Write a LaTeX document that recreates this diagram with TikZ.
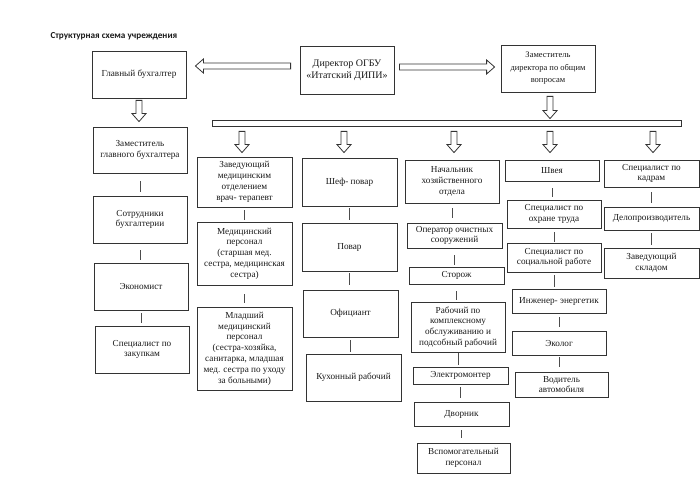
\documentclass[tikz,border=0pt]{standalone}
\usepackage{fontspec}
\setmainfont{Liberation Serif}
\newfontfamily\headfont{Carlito}
\usepackage{tikz}
\usetikzlibrary{calc,positioning}
\newcommand{\hollowarrow}[2]{%
  \coordinate (ha) at #1;%
  \coordinate (hb) at #2;%
  \coordinate (hh) at ($(hb)!8pt!(ha)$);%
  \draw[arr] ($(ha)!3pt!90:(hb)$) -- ($(hh)!3pt!90:(hb)$) -- ($(hh)!7pt!90:(hb)$) -- (hb) -- ($(hh)!7pt!-90:(hb)$) -- ($(hh)!3pt!-90:(hb)$) -- ($(ha)!3pt!-90:(hb)$) -- cycle;%
}

\begin{document}
\begin{tikzpicture}[x=1pt,y=-1pt]
    \tikzstyle{every node}=[font=\fontsize{9.2}{10.8}\selectfont, text=black!90]
    \tikzstyle{box}=[draw=black!80, line width=0.8pt, minimum width=94pt, inner sep=0pt, align=center]
    \tikzstyle{arr}=[draw=black!80, line width=0.8pt, line join=miter]
    \tikzstyle{link}=[draw=black!70, line width=0.7pt]
    \useasboundingbox (0,0) rectangle (700,494); %
    \node[anchor=west, font=\headfont\bfseries\fontsize{9.2}{10}\selectfont] (title) at (47,36) {Структурная схема учреждения}; %
    % top row
    \node[box, minimum height=48pt, font=\fontsize{10}{12}\selectfont] (dir) at (347,70) {Директор ОГБУ\\«Итатский ДИПИ»}; %
    \node[box, minimum height=47pt] (gb) at (139,74.5) {Главный бухгалтер}; %
    \node[box, minimum height=47pt, font=\fontsize{8.5}{12.5}\selectfont] (zd) at (548,68.5) {Заместитель\\директора по общим\\вопросам}; %
    \node[draw=black!80, line width=0.8pt, minimum width=469pt, minimum height=6pt, inner sep=0pt] (bar) at (446.5,123) {}; %
    % bookkeeping
    \node[box, minimum height=46pt] (zgb) at (140,150) {Заместитель\\главного бухгалтера}; %
    \node[box, minimum height=47pt] (sb) at (140,219.5) {Сотрудники\\бухгалтерии}; %
    \node[box, minimum height=47pt] (eko) at (141,286.5) {Экономист}; %
    \node[box, minimum height=47pt] (zak) at (142,349.5) {Специалист по\\закупкам}; %
    % medical
    \node[box, minimum width=95pt, minimum height=50pt] (zav) at (244.5,182) {Заведующий\\медицинским\\отделением\\врач- терапевт}; %
    \node[box, minimum width=95pt, minimum height=63pt] (medp) at (244.5,253.5) {Медицинский\\персонал\\(старшая мед.\\сестра, медицинская\\сестра)}; %
    \node[box, minimum width=95pt, minimum height=83pt] (mlp) at (244.5,348.5) {Младший\\медицинский\\персонал\\(сестра-хозяйка,\\санитарка, младшая\\мед. сестра по уходу\\за больными)}; %
    % kitchen
    \node[box, minimum width=95pt, minimum height=48pt] (chef) at (349.5,182) {Шеф- повар}; %
    \node[box, minimum width=95pt, minimum height=48pt] (pov) at (349.5,247) {Повар}; %
    \node[box, minimum width=95pt, minimum height=47pt] (ofic) at (350.5,313.5) {Официант}; %
    \node[box, minimum width=95pt, minimum height=47pt] (kuh) at (353.5,377.5) {Кухонный рабочий}; %
    % household
    \node[box, minimum height=43pt] (nach) at (452,181.5) {Начальник\\хозяйственного\\отдела}; %
    \node[box, minimum width=95pt, minimum height=25pt] (oper) at (454.5,235.5) {Оператор очистных\\сооружений}; %
    \node[box, minimum width=95pt, minimum height=17pt] (stor) at (456.5,275.5) {Сторож}; %
    \node[box, minimum height=50pt] (rab) at (458,327) {Рабочий по\\комплексному\\обслуживанию и\\подсобный рабочий}; %
    \node[box, minimum width=95pt, minimum height=17pt] (elek) at (460.5,375.5) {Электромонтер}; %
    \node[box, minimum width=95pt, minimum height=24pt] (dvor) at (461.5,414) {Дворник}; %
    \node[box, minimum width=93pt, minimum height=30pt] (vsp) at (463.5,458) {Вспомогательный\\персонал}; %
    % sewing and services
    \node[box, minimum height=21pt] (shv) at (552,170.5) {Швея}; %
    \node[box, minimum height=28pt] (ot) at (554,214) {Специалист по\\охране труда}; %
    \node[box, minimum height=29pt] (soc) at (554,257.5) {Специалист по\\социальной работе}; %
    \node[box, minimum height=24pt] (ing) at (559,301) {Инженер- энергетик}; %
    \node[box, minimum height=24pt] (ekol) at (559,343) {Эколог}; %
    \node[box, minimum width=93pt, minimum height=25pt] (vod) at (561.5,384.5) {Водитель\\автомобиля}; %
    % staff
    \node[box, minimum width=95pt, minimum height=27pt] (kad) at (651.5,173.5) {Специалист по\\кадрам}; %
    \node[box, minimum width=95pt, minimum height=23pt] (delo) at (651.5,218.5) {Делопроизводитель}; %
    \node[box, minimum width=95pt, minimum height=30pt] (sklad) at (651.5,263) {Заведующий\\складом}; %
    % block arrows
    \hollowarrow{($(dir.west)+(-9,-4)$)}{($(gb.east |- dir.west)+(9,-4)$)} %
    \hollowarrow{($(dir.east)+(5,-3)$)}{($(zd.west |- dir.east)+(-6,-3)$)} %
    \hollowarrow{($(gb.south)+(0,2)$)}{($(gb.south |- zgb.north)+(0,-5)$)} %
    \hollowarrow{($(zd.south)+(2,4)$)}{($(zd.south |- bar.north)+(2,-1)$)} %
    \hollowarrow{($(bar.south -| zav.north)+(-2.5,5)$)}{($(zav.north)+(-2.5,-4)$)} %
    \hollowarrow{($(bar.south -| chef.north)+(-5.5,5)$)}{($(chef.north)+(-5.5,-5)$)} %
    \hollowarrow{($(bar.south -| nach.north)+(2,5)$)}{($(nach.north)+(2,-7)$)} %
    \hollowarrow{($(bar.south -| shv.north)+(-2,5)$)}{($(shv.north)+(-2,-7)$)} %
    \hollowarrow{($(bar.south -| kad.north)+(1.5,5)$)}{($(kad.north)+(1.5,-7)$)} %
    % links
    \draw[link, shorten <=8pt, shorten >=4pt] (zgb.south) -- (zgb.south |- sb.north); %
    \draw[link, shorten <=7pt, shorten >=3pt] (sb.south) -- (sb.south |- eko.north); %
    \draw[link, shorten <=3pt, shorten >=3pt] (eko.south) -- (eko.south |- zak.north); %
    \draw[link, shorten <=3pt, shorten >=2pt] (zav.south) -- (zav.south |- medp.north); %
    \draw[link, shorten <=9pt, shorten >=4pt] (medp.south) -- (medp.south |- mlp.north); %
    \draw[link, shorten <=2pt, shorten >=3pt] (chef.south) -- (chef.south |- pov.north); %
    \draw[link, shorten <=2pt, shorten >=5pt] (pov.south) -- (pov.south |- ofic.north); %
    \draw[link, shorten <=3pt, shorten >=2pt] (ofic.south) -- (ofic.south |- kuh.north); %
    \draw[link, shorten <=5pt, shorten >=5pt] (nach.south) -- (nach.south |- oper.north); %
    \draw[link, shorten <=7pt, shorten >=2pt] (oper.south) -- (oper.south |- stor.north); %
    \draw[link, shorten <=7pt, shorten >=2pt] (stor.south) -- (stor.south |- rab.north); %
    \draw[link, shorten <=1pt, shorten >=2pt] (rab.south) -- (rab.south |- elek.north); %
    \draw[link, shorten <=3pt, shorten >=4pt] (elek.south) -- (elek.south |- dvor.north); %
    \draw[link, shorten <=4pt, shorten >=5pt] (dvor.south) -- (dvor.south |- vsp.north); %
    \draw[link, shorten <=7pt, shorten >=3pt] (shv.south) -- (shv.south |- ot.north); %
    \draw[link, shorten <=4pt, shorten >=1pt] (ot.south) -- (ot.south |- soc.north); %
    \draw[link, shorten <=3pt, shorten >=2pt] (soc.south) -- (soc.south |- ing.north); %
    \draw[link, shorten <=4pt, shorten >=4pt] (ing.south) -- (ing.south |- ekol.north); %
    \draw[link, shorten <=2pt, shorten >=5pt] (ekol.south) -- (ekol.south |- vod.north); %
    \draw[link, shorten <=5pt, shorten >=4pt] (kad.south) -- (kad.south |- delo.north); %
    \draw[link, shorten <=3pt, shorten >=3pt] (delo.south) -- (delo.south |- sklad.north); %
\end{tikzpicture}
\end{document}
